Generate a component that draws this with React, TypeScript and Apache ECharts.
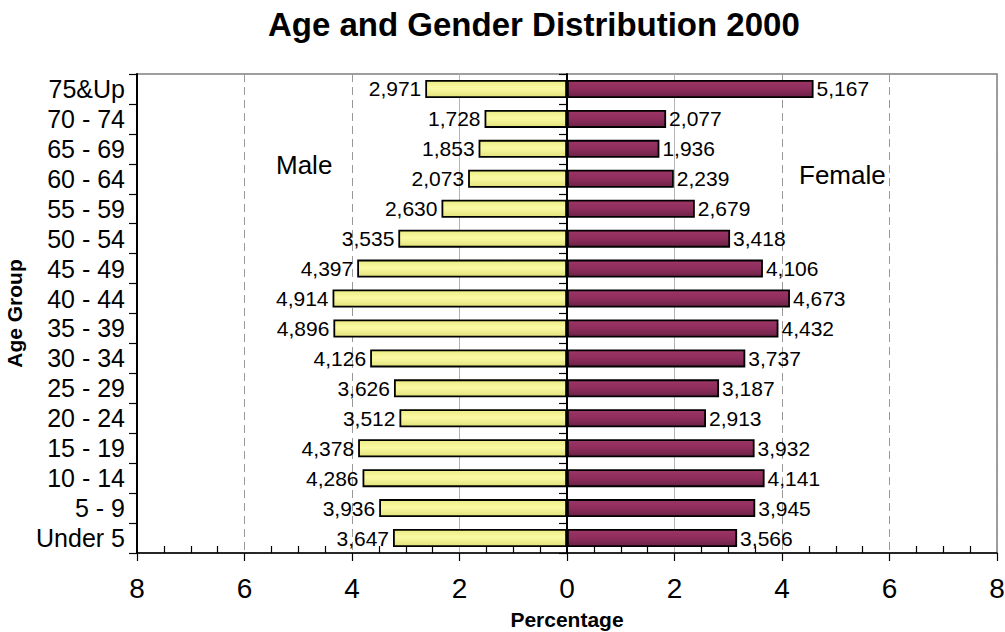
import React, { useEffect, useRef } from 'react';
import * as echarts from 'echarts';

// Top to bottom, as drawn
const ageGroups = [
  '75&Up', '70 - 74', '65 - 69', '60 - 64', '55 - 59', '50 - 54', '45 - 49', '40 - 44',
  '35 - 39', '30 - 34', '25 - 29', '20 - 24', '15 - 19', '10 - 14', '5 - 9', 'Under 5',
];
const maleCounts = [2971, 1728, 1853, 2073, 2630, 3535, 4397, 4914, 4896, 4126, 3626, 3512, 4378, 4286, 3936, 3647];
const femaleCounts = [5167, 2077, 1936, 2239, 2679, 3418, 4106, 4673, 4432, 3737, 3187, 2913, 3932, 4141, 3945, 3566];
// Bar lengths (percentage of total population)
const malePct = [2.637, 1.534, 1.645, 1.84, 2.335, 3.138, 3.903, 4.362, 4.346, 3.662, 3.219, 3.117, 3.886, 3.804, 3.494, 3.237];
const femalePct = [4.587, 1.844, 1.719, 1.987, 2.378, 3.034, 3.645, 4.148, 3.934, 3.317, 2.829, 2.586, 3.49, 3.676, 3.502, 3.165];

const FONT = '"Liberation Sans", Arial, sans-serif';

const fmt = (n: number) => n.toLocaleString('en-US');

export default function App() {
  const ref = useRef<HTMLDivElement>(null);

  useEffect(() => {
    if (!ref.current) return;
    const chart = echarts.init(ref.current, null, { renderer: 'svg' });
    const option: any = {
      animation: false,
      backgroundColor: '#ffffff',
      textStyle: { fontFamily: FONT },
      title: {
        text: 'Age and Gender Distribution 2000',
        left: 268,
        top: 8,
        padding: 0,
        textStyle: { fontFamily: FONT, fontSize: 33, fontWeight: 'bold', color: '#000' },
      },
      grid: {
        left: 137,
        right: 8,
        top: 74,
        bottom: 79,
        show: true,
        borderColor: '#7f7f7f',
        borderWidth: 1.5,
        containLabel: false,
        outerBoundsMode: 'none',
      },
      xAxis: [
        {
          type: 'value',
          min: -8,
          max: 8,
          interval: 2,
          position: 'bottom',
          name: 'Percentage',
          nameLocation: 'middle',
          nameGap: 56,
          nameTextStyle: { fontFamily: FONT, fontSize: 21, fontWeight: 'bold', color: '#000' },
          axisLine: { show: true, onZero: false, lineStyle: { color: '#000', width: 1.5 } },
          axisTick: { show: true, inside: false, length: 8, lineStyle: { color: '#000', width: 1.2 } },
          axisLabel: {
            margin: 21,
            fontFamily: FONT,
            fontSize: 28,
            color: '#000',
            formatter: (v: number) => String(Math.abs(v)),
          },
          splitLine: {
            show: true,
            showMinLine: true,
            showMaxLine: true,
            lineStyle: {
              type: [8, 5],
              width: 1,
              color: ['#999', '#999', '#999', 'rgba(0,0,0,0)', 'rgba(0,0,0,0)', 'rgba(0,0,0,0)', '#999', '#999', '#999'],
            },
          },
        },
        {
          type: 'value',
          min: -8,
          max: 8,
          interval: 2,
          position: 'bottom',
          axisLine: { show: false, onZero: false },
          axisTick: { show: false, inside: true },
          axisLabel: { show: false },
          minorTick: { show: true, splitNumber: 4, length: 7, lineStyle: { color: '#000', width: 1.2 } },
          splitLine: {
            show: true,
            showMinLine: true,
            showMaxLine: true,
            lineStyle: {
              type: 'solid',
              width: 1,
              color: ['rgba(0,0,0,0)', 'rgba(0,0,0,0)', 'rgba(0,0,0,0)', '#b4b4b4', 'rgba(0,0,0,0)', '#b4b4b4', 'rgba(0,0,0,0)', 'rgba(0,0,0,0)', 'rgba(0,0,0,0)'],
            },
          },
        },
      ],
      yAxis: [
        {
          type: 'category',
          data: ageGroups,
          inverse: true,
          position: 'left',
          name: 'Age Group',
          nameLocation: 'middle',
          nameGap: 108,
          nameTextStyle: { fontFamily: FONT, fontSize: 21, fontWeight: 'bold', color: '#000' },
          axisLine: { show: true, onZero: false, lineStyle: { color: '#000', width: 2 } },
          axisTick: { show: true, inside: false, length: 8, interval: 0, lineStyle: { color: '#000', width: 1.2 } },
          axisLabel: { interval: 0, margin: 12, fontFamily: FONT, fontSize: 25, color: '#000' },
          splitLine: { show: false },
        },
        {
          type: 'category',
          data: ageGroups,
          inverse: true,
          position: 'left',
          axisLine: { show: true, onZero: true, lineStyle: { color: '#000', width: 2 } },
          axisTick: { show: true, inside: false, length: 8, interval: 0, lineStyle: { color: '#000', width: 1.2 } },
          axisLabel: { show: false },
          splitLine: { show: false },
        },
      ],
      series: [
        {
          name: 'Male',
          type: 'bar',
          stack: 'pop',
          xAxisIndex: 0,
          yAxisIndex: 0,
          barWidth: 18,
          data: malePct.map((v) => -v),
          itemStyle: {
            borderColor: '#000',
            borderWidth: 1.8,
            color: new echarts.graphic.LinearGradient(0, 0, 0, 1, [
              { offset: 0, color: '#ecec84' },
              { offset: 0.45, color: '#fafaa4' },
              { offset: 1, color: '#e2e27a' },
            ]),
          },
          label: {
            show: true,
            position: 'left',
            distance: 4,
            fontFamily: FONT,
            fontSize: 21,
            color: '#000',
            formatter: (p: any) => fmt(maleCounts[p.dataIndex]),
          },
        },
        {
          name: 'Female',
          type: 'bar',
          stack: 'pop',
          xAxisIndex: 0,
          yAxisIndex: 0,
          barWidth: 18,
          data: femalePct,
          itemStyle: {
            borderColor: '#000',
            borderWidth: 1.8,
            color: new echarts.graphic.LinearGradient(0, 0, 0, 1, [
              { offset: 0, color: '#9c3566' },
              { offset: 0.5, color: '#8e2d5c' },
              { offset: 1, color: '#6c2146' },
            ]),
          },
          label: {
            show: true,
            position: 'right',
            distance: 3,
            fontFamily: FONT,
            fontSize: 21,
            color: '#000',
            formatter: (p: any) => fmt(femaleCounts[p.dataIndex]),
          },
        },
      ],
      graphic: [
        {
          type: 'text',
          left: 276,
          top: 152,
          style: { text: 'Male', fontFamily: FONT, fontSize: 26, fill: '#000' },
        },
        {
          type: 'text',
          left: 799,
          top: 162,
          style: { text: 'Female', fontFamily: FONT, fontSize: 26, fill: '#000' },
        },
      ],
    };
    chart.setOption(option);
    return () => chart.dispose();
  }, []);

  return (
    <div
      ref={ref}
      style={{ position: 'absolute', left: 0, top: 0, width: 1005, height: 632 }}
    />
  );
}
